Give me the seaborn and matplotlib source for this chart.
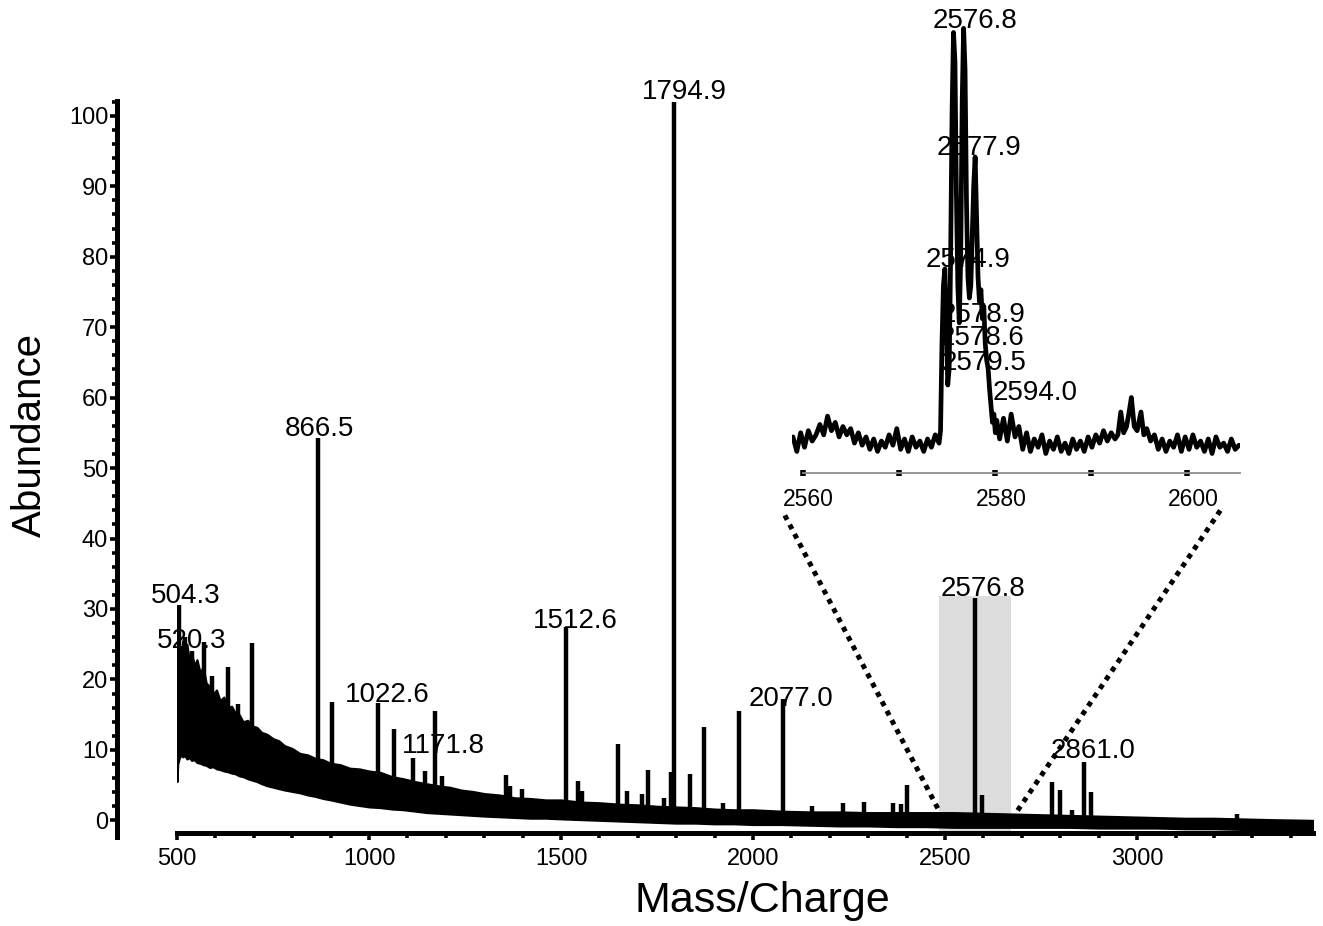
import numpy as np
import pandas as pd
import seaborn as sns
import matplotlib.pyplot as plt
from matplotlib.patches import ConnectionPatch, Rectangle
from matplotlib.ticker import MultipleLocator
from matplotlib.transforms import ScaledTranslation

# ---- main spectrum: noise envelope ----
band_mz = [500, 502, 506, 510, 515, 520, 526, 532, 538, 545,
           552, 560, 568, 576, 585, 594, 603, 612, 622, 632,
           642, 652, 662, 672, 684, 696, 708, 720, 735, 750,
           765, 780, 800, 820, 840, 860, 880, 900, 925, 950,
           975, 1000, 1030, 1060, 1090, 1120, 1150, 1180, 1210, 1240,
           1270, 1300, 1340, 1380, 1420, 1460, 1500, 1550, 1600, 1650,
           1700, 1750, 1800, 1850, 1900, 1950, 2000, 2075, 2150, 2225,
           2300, 2375, 2450, 2525, 2600, 2675, 2750, 2825, 2900, 2975,
           3050, 3125, 3200, 3275, 3350, 3458]
band_hi = [20.4, 24.5, 25.0, 23.5, 25.5, 24.0, 25.0, 22.5, 23.8, 22.0,
           22.8, 21.0, 21.8, 19.5, 19.0, 18.0, 18.5, 17.0, 17.5, 16.0,
           16.2, 15.2, 15.0, 14.0, 14.2, 13.4, 13.2, 12.5, 12.2, 11.6,
           11.3, 10.6, 10.2, 9.5, 9.3, 8.8, 8.6, 8.1, 7.9, 7.4,
           7.3, 7.0, 6.8, 6.2, 5.9, 5.5, 5.2, 4.9, 4.7, 4.3,
           4.1, 3.8, 3.6, 3.2, 3.1, 2.9, 2.9, 2.6, 2.5, 2.3,
           2.2, 2.0, 1.9, 1.8, 1.6, 1.5, 1.5, 1.3, 1.2, 1.2,
           1.1, 1.1, 1.1, 1.1, 1.0, 0.9, 0.8, 0.7, 0.6, 0.5,
           0.4, 0.3, 0.3, 0.2, 0.1, 0.0]
band_lo = [5.5, 8.0, 8.8, 9.3, 9.0, 9.2, 8.7, 8.9, 8.5, 8.6,
           8.2, 8.1, 7.9, 7.8, 7.5, 7.6, 7.3, 7.2, 7.0, 6.9,
           6.7, 6.6, 6.3, 6.2, 5.9, 5.7, 5.5, 5.2, 4.9, 4.7,
           4.5, 4.3, 4.1, 3.9, 3.6, 3.4, 3.1, 2.9, 2.6, 2.3,
           2.1, 1.9, 1.8, 1.6, 1.5, 1.3, 1.1, 1.0, 0.9, 0.8,
           0.7, 0.6, 0.5, 0.4, 0.3, 0.3, 0.2, 0.1, 0.0, -0.1,
           -0.2, -0.3, -0.4, -0.4, -0.5, -0.5, -0.6, -0.6, -0.7, -0.8,
           -0.8, -0.9, -0.9, -1.0, -1.0, -1.0, -1.0, -1.0, -1.1, -1.1,
           -1.1, -1.2, -1.2, -1.3, -1.3, -1.3]

# ---- main spectrum: peaks ----
peak_mz = [504.3, 520.3, 540, 570, 592, 633, 660, 696, 866.5, 903,
           1022.6, 1066, 1114, 1147, 1171.8, 1190, 1357, 1367, 1398, 1512.6,
           1543, 1554, 1649, 1671, 1710, 1726, 1768, 1786, 1794.9, 1836,
           1871, 1921, 1964, 2077.0, 2153, 2235, 2289, 2365, 2386, 2402,
           2576.8, 2595, 2778, 2799, 2830, 2861.0, 2880, 3261]
peak_ab = [30.5, 26.0, 24.0, 25.3, 20.5, 21.7, 16.5, 25.2, 54.3, 16.8,
           16.7, 12.9, 8.8, 7.0, 15.5, 6.3, 6.4, 4.9, 4.5, 27.5,
           5.6, 4.1, 10.8, 4.1, 3.8, 7.2, 3.1, 6.9, 102.0, 6.6,
           13.2, 2.5, 15.5, 17.2, 2.0, 2.5, 2.6, 2.5, 2.3, 5.0,
           31.6, 3.6, 5.5, 4.3, 1.5, 8.3, 4.0, 0.9]

main_label_text = ['504.3', '520.3', '866.5', '1022.6', '1171.8', '1512.6',
                   '1794.9', '2077.0', '2576.8', '2861.0']
main_label_x = [523, 539, 872, 1048, 1194, 1536, 1821, 2099, 2598, 2885]
main_label_y = [30.8, 24.5, 54.6, 16.8, 9.55, 27.3, 102.4, 16.2, 31.8, 8.85]

# highlighted window that is zoomed in the inset
zoom_lo, zoom_hi, zoom_top = 2485, 2672, 31.9

# ---- inset: zoom on 2560-2605 ----
inset_mz = [2559.0, 2559.4, 2559.8, 2560.2, 2560.6, 2561.0, 2561.4, 2561.8, 2562.2, 2562.6,
            2563.0, 2563.4, 2563.8, 2564.2, 2564.6, 2565.0, 2565.4, 2565.8, 2566.2, 2566.6,
            2567.0, 2567.4, 2567.8, 2568.2, 2568.6, 2569.0, 2569.4, 2569.8, 2570.2, 2570.6,
            2571.0, 2571.4, 2571.8, 2572.2, 2572.6, 2573.0, 2573.4, 2573.8, 2574.2,
            2574.35, 2574.5, 2574.65, 2574.8, 2574.95, 2575.1, 2575.25, 2575.4, 2575.55, 2575.7,
            2575.85, 2576.0, 2576.15, 2576.3, 2576.45, 2576.6, 2576.75, 2576.9, 2577.05, 2577.2,
            2577.35, 2577.5, 2577.65, 2577.8, 2577.95, 2578.1, 2578.25, 2578.4, 2578.55, 2578.7,
            2578.85, 2579.0, 2579.15, 2579.3, 2579.45, 2579.6, 2579.75, 2579.9, 2580.05, 2580.2,
            2580.5, 2580.9, 2581.3, 2581.7, 2582.1, 2582.5, 2582.9, 2583.3, 2583.7, 2584.1,
            2584.5, 2584.9, 2585.3, 2585.7, 2586.1, 2586.5, 2586.9, 2587.3, 2587.7, 2588.1,
            2588.5, 2588.9, 2589.3, 2589.7, 2590.1, 2590.5, 2590.9, 2591.3, 2591.7, 2592.1,
            2592.5,
            2592.8, 2593.1, 2593.4, 2593.7, 2594.0, 2594.2, 2594.5, 2594.8, 2595.2, 2595.5,
            2595.8,
            2596.2, 2596.6, 2597.0, 2597.4, 2597.8, 2598.2, 2598.6, 2599.0, 2599.4, 2599.8,
            2600.2, 2600.6, 2601.0, 2601.4, 2601.8, 2602.2, 2602.6, 2603.0, 2603.4, 2603.8,
            2604.2, 2604.6, 2605.0, 2605.4]
inset_int = [1.5, -2.0, 2.5, -1.0, 3.0, 0.5, 2.0, 4.5, 2.0, 6.5,
             3.0, 5.0, 1.5, 4.0, 2.0, 3.5, 0.0, 2.5, -0.5, 1.5,
             -1.5, 1.0, -2.0, 0.5, -1.0, 2.0, -0.5, 3.5, -1.5, 1.0,
             -2.0, 1.5, -1.0, 0.5, -2.0, 1.0, -1.0, 2.0, 0.0,
             3.0, 24.0, 38.0, 42.0, 30.0, 14.0, 18.0, 45.0, 80.0, 99.0,
             92.0, 60.0, 38.0, 29.0, 45.0, 82.0, 100.0, 90.0, 58.0, 40.0,
             35.0, 38.0, 50.0, 62.0, 69.0, 55.0, 40.0, 34.0, 37.0, 30.0,
             33.0, 24.0, 20.0, 18.0, 13.0, 9.0, 5.0, 7.0, 2.5, 5.5,
             1.0, 6.0, 0.5, 7.0, 1.5, 4.0, -1.5, 2.5, -2.0, 1.0,
             -1.0, 2.0, -2.5, 0.5, -1.5, 1.5, -2.0, 0.0, -2.5, 1.0,
             -1.5, 0.5, -2.0, 1.5, -1.0, 2.0, 0.0, 3.0, 0.5, 2.5,
             1.0,
             2.0, 7.5, 2.5, 4.0, 8.0, 11.0, 4.0, 3.0, 7.5, 2.0,
             3.5,
             0.5, 2.0, -1.5, 1.0, -2.0, 0.5, -1.0, 2.0, -2.0, 1.5,
             -1.5, 2.0, -1.0, 0.5, -2.0, 1.0, -2.5, 1.5, -1.0, 0.0,
             -2.0, 1.0, -1.5, -0.5]

inset_label_text = ['2576.8', '2577.9', '2574.9', '2578.9', '2578.6', '2579.5', '2594.0']
inset_label_x = [2577.9, 2578.4, 2577.2, 2578.8, 2578.65, 2578.85, 2584.2]
inset_label_y = [100.1, 69.4, 42.4, 29.2, 23.6, 17.6, 10.4]
inset_ticks = [2560, 2580, 2600]

inset_df = pd.DataFrame({'mz': inset_mz, 'intensity': inset_int})

sns.set_style("ticks")
plt.rcParams['font.family'] = ['Liberation Sans', 'DejaVu Sans']
plt.rcParams['text.color'] = 'black'
plt.rcParams['axes.labelcolor'] = 'black'
plt.rcParams['xtick.color'] = 'black'
plt.rcParams['ytick.color'] = 'black'

W, H = 1323, 926
fig = plt.figure(figsize=(W / 100, H / 100), dpi=100)
ax = fig.add_axes([177 / W, 1 - 833 / H, (1313 - 177) / W, (833 - 101) / H])

ax.add_patch(Rectangle((zoom_lo, -1.8), zoom_hi - zoom_lo, zoom_top + 1.8,
                       facecolor='#dcdcdc', edgecolor='none', zorder=0))
ax.fill_between(band_mz, band_lo, band_hi, color='black', lw=1.5, zorder=2)
mid = (np.array(band_lo) + np.array(band_hi)) / 2
base = np.interp(peak_mz, band_mz, mid)
ax.vlines(peak_mz, base, peak_ab, color='black', lw=3.2, zorder=3)

for t, x, y in zip(main_label_text, main_label_x, main_label_y):
    ax.text(x, y, t, ha='center', va='baseline', fontsize=20, color='black',
            clip_on=False, zorder=4)

ax.set_xlim(500, 3458)
ax.set_ylim(-1.8, 102.1)
sns.despine(ax=ax)
ax.spines['left'].set_position(('outward', 43))
ax.spines['left'].set_bounds(-2.3, 102.1)
for s in ['left', 'bottom']:
    ax.spines[s].set_linewidth(3.6)
    ax.spines[s].set_color('black')
ax.xaxis.set_major_locator(MultipleLocator(500))
ax.xaxis.set_minor_locator(MultipleLocator(100))
ax.yaxis.set_major_locator(MultipleLocator(10))
ax.yaxis.set_minor_locator(MultipleLocator(2))
ax.tick_params(which='major', length=5, width=2.6, labelsize=17, direction='out',
               color='black', labelcolor='black')
ax.tick_params(which='minor', length=3.6, width=2.6, direction='out', color='black')
ax.tick_params(axis='y', which='major', pad=1.5)
ax.tick_params(axis='x', which='major', pad=6)

fig.text(762 / W, 1 - 901 / H, 'Mass/Charge', ha='center', va='center', fontsize=31, color='black')
fig.text(30 / W, 1 - 435 / H, 'Abundance', rotation=90, ha='center', va='center',
         fontsize=29, color='black')

# ---- inset ----
axins = fig.add_axes([792 / W, 1 - 473 / H, 448 / W, 453 / H])
axins.set_facecolor('none')
sns.lineplot(data=inset_df, x='mz', y='intensity', ax=axins, color='black',
             lw=3.4, sort=False, estimator=None)
for t, x, y in zip(inset_label_text, inset_label_x, inset_label_y):
    axins.text(x, y, t, ha='center', va='baseline', fontsize=20, color='black', clip_on=False)
axins.set_xlim(2558.9, 2605.5)
axins.set_ylim(-7.2, 102)
for s in ['left', 'right', 'top']:
    axins.spines[s].set_visible(False)
axins.spines['bottom'].set_color('#8c8c8c')
axins.spines['bottom'].set_linewidth(1.3)
axins.spines['bottom'].set_bounds(2560, 2605.5)
axins.set_yticks([])
axins.set_xlabel('')
axins.set_ylabel('')
axins.set_xticks(inset_ticks)
axins.xaxis.set_minor_locator(MultipleLocator(10))
axins.tick_params(axis='x', which='both', direction='inout', length=4, width=4,
                  color='black', labelcolor='black', labelsize=16.5, pad=9)
# labels sit a little right of their dots in the original
shift = ScaledTranslation(6 / 100, 0, fig.dpi_scale_trans)
for tick in axins.xaxis.get_major_ticks():
    tick.label1.set_transform(tick.label1.get_transform() + shift)

# dotted guide lines from the highlighted window to the inset
for xyA, xyB in [((2481, 1.7), (-0.02, -0.086)), ((2689, 1.4), (0.96, -0.077))]:
    con = ConnectionPatch(xyA=xyA, coordsA=ax.transData, xyB=xyB, coordsB=axins.transAxes,
                          color='black', lw=3.6, linestyle=(0, (1, 1.1)))
    con.set_capstyle('butt')
    fig.add_artist(con)

fig.savefig('out.png', dpi=100)
